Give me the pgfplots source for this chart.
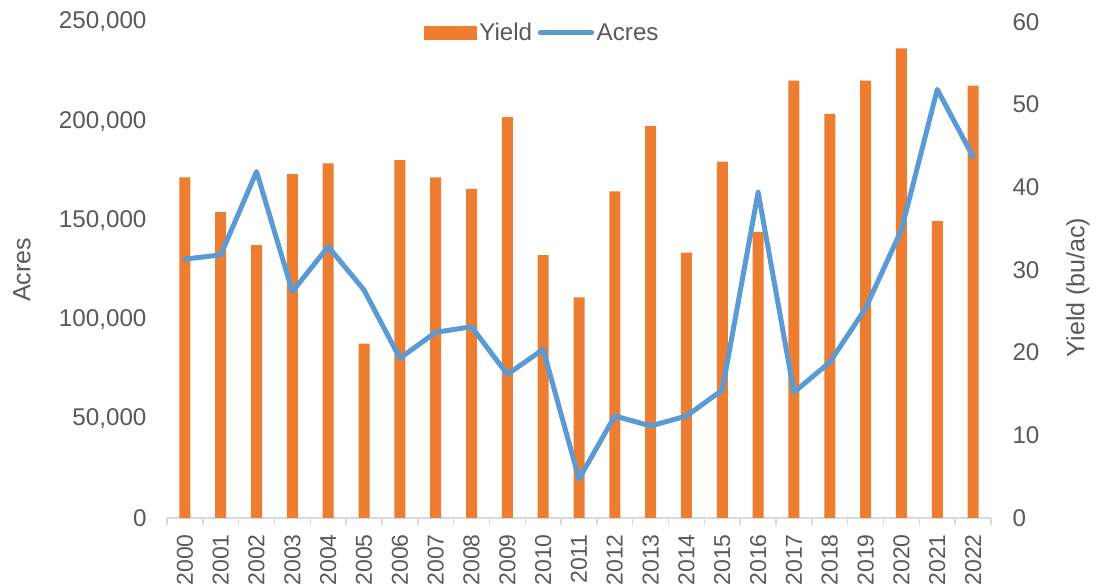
\documentclass[border=0pt]{standalone}
\usepackage{fontspec}
\setmainfont{Liberation Sans}
\usepackage{pgfplots}
\usepackage{pgfplotstable}
\pgfplotsset{compat=1.18}
\definecolor{barorange}{HTML}{ED7D31}
\definecolor{lineblue}{HTML}{5B9BD5}
\definecolor{txtgray}{HTML}{595959}
\definecolor{axgray}{HTML}{D9D9D9}

\pgfplotstableread{
x year yield acres
0  2000 41.2 130500
1  2001 37.0 132600
2  2002 33.0 174600
3  2003 41.6 114100
4  2004 42.9 136800
5  2005 21.1 114900
6  2006 43.3 80500
7  2007 41.2 93600
8  2008 39.8 96400
9  2009 48.5 72400
10 2010 31.8 85000
11 2011 26.7 19700
12 2012 39.5 51400
13 2013 47.4 46400
14 2014 32.1 51400
15 2015 43.1 64500
16 2016 34.6 164200
17 2017 52.9 63400
18 2018 48.9 78500
19 2019 52.9 105700
20 2020 56.8 145200
21 2021 35.9 216000
22 2022 52.3 182100
}\data

\begin{document}
\begin{tikzpicture}
\pgfplotsset{
  every axis/.append style={
    scale only axis, width=824pt, height=496pt,
    xmin=-0.5, xmax=22.5,
    at={(0pt,0pt)}, anchor=south west,
    tick label style={font=\fontsize{24.2}{29}\selectfont, text=txtgray},
    label style={font=\fontsize{25}{30}\selectfont, text=txtgray},
    /pgf/number format/assume math mode=true,
  }
}
\begin{axis}[
  ymin=0, ymax=60, ytick={0,10,...,60},
  axis y line*=right, axis x line*=bottom,
  y axis line style={draw=none},
  ytick style={draw=none},
  yticklabel style={xshift=18pt},
  xtick={0,...,22},
  xticklabels={2000,2001,2002,2003,2004,2005,2006,2007,2008,2009,2010,2011,2012,2013,2014,2015,2016,2017,2018,2019,2020,2021,2022},
  x tick label style={rotate=90, anchor=east, xshift=-8.5pt, font=\fontsize{23}{28}\selectfont},
  major x tick style={draw=none},
  minor xtick={-0.5,0.5,...,22.5},
  minor x tick style={axgray, line width=1.5pt},
  minor tick length=7pt,
  xtick align=outside,
  x axis line style={axgray, line width=1.5pt, -},
  ylabel={Yield (bu/ac)},
  ylabel style={at={(axis description cs:1.1056,0.465)}, anchor=center},
]
\addplot[ybar, bar width=11pt, fill=barorange, draw=none] table[x=x,y=yield]{\data};
\end{axis}
\begin{axis}[
  ymin=0, ymax=250000, ytick={0,50000,...,250000},
  axis y line*=left, hide x axis,
  y axis line style={draw=none},
  ytick style={draw=none},
  scaled y ticks=false,
  yticklabel style={xshift=-17pt, /pgf/number format/.cd, fixed, 1000 sep={,}},
  ylabel={Acres},
  ylabel style={at={(axis description cs:-0.176,0.5)}, anchor=center},
  legend style={at={(axis description cs:0.456,0.978)}, anchor=center, draw=none, fill=none,
    font=\fontsize{24.2}{29}\selectfont, text=txtgray, legend columns=2,
    nodes={inner sep=2.5pt},
    /tikz/every even column/.append style={column sep=3pt}},
]
\addlegendimage{legend image code/.code={\fill[barorange] (0pt,-6.5pt) rectangle (52pt,6.5pt);}}
\addlegendentry{Yield}
\addplot[lineblue, line width=5pt, line join=round, line cap=round,
  legend image code/.code={\draw[lineblue, line width=5pt, line cap=round] (2.5pt,0pt) -- (54pt,0pt);}]
  table[x=x,y=acres]{\data};
\addlegendentry{Acres}
\end{axis}
\pgfresetboundingbox
\useasboundingbox (-167pt,-68pt) rectangle (929pt,518pt);
\end{tikzpicture}
\end{document}
